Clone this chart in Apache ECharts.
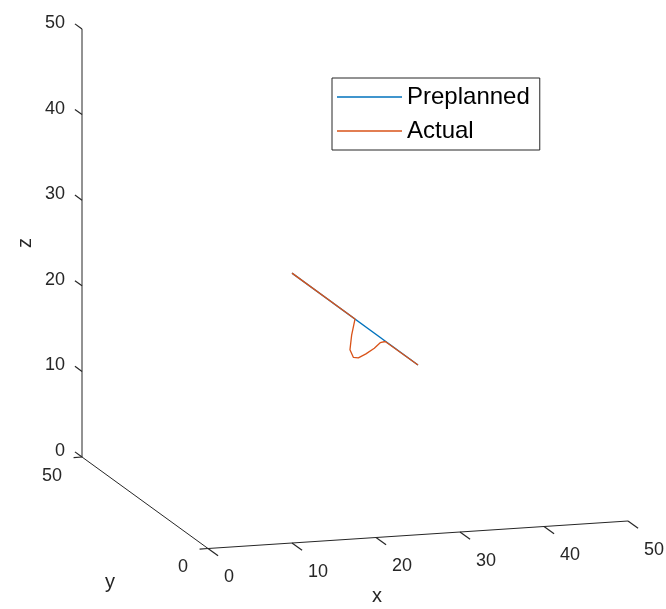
<!DOCTYPE html>
<html>
<head>
<meta charset="utf-8">
<script src="https://cdn.jsdelivr.net/npm/echarts@6/dist/echarts.min.js"></script>
<style>
  html, body { margin: 0; padding: 0; background: #fff; }
  #chart { width: 666px; height: 609px; }
</style>
</head>
<body>
<div id="chart"></div>
<script>
// Tick values on the three axes
const xTicks = [0, 10, 20, 30, 40, 50];
const yTicks = [0, 50];
const zTicks = [0, 10, 20, 30, 40, 50];

// Planned straight path (x, y, z)
const preplannedX = [17.5, 32.5];
const preplannedY = [25, 25];
const preplannedZ = [25.7, 14.0];

// Flown path with its dip below the plan
const actualX = [17.5, 25.0, 24.6, 24.4, 24.8, 25.4, 26.3, 27.3, 28.0, 28.6, 32.5];
const actualY = [25, 25, 25, 25, 25, 25, 25, 25, 25, 25, 25];
const actualZ = [25.7, 19.85, 18.0, 16.3, 15.4, 15.3, 15.7, 16.3, 16.9, 17.0, 14.0];

// Axis range of the box
const boxMax = 50;

// Orthographic view: screen offset per data unit along x, y and z
const VIEW = {
  origin: [208, 548.5],
  ex: [8.4, -0.55],
  ey: [-2.52, -1.83],
  ez: [0, -8.56]
};
function project(x, y, z) {
  return [
    VIEW.origin[0] + x * VIEW.ex[0] + y * VIEW.ey[0] + z * VIEW.ez[0],
    VIEW.origin[1] + x * VIEW.ex[1] + y * VIEW.ey[1] + z * VIEW.ez[1]
  ];
}
function path(xs, ys, zs) {
  return xs.map((x, i) => project(x, ys[i], zs[i]));
}

const FONT = '"Liberation Sans", Arial, Helvetica, sans-serif';
const AXIS_COLOR = '#262626';

// Box edges that carry the axes
const axisSegments = [
  [[0, 0, 0], [boxMax, 0, 0]],
  [[0, 0, 0], [0, boxMax, 0]],
  [[0, boxMax, 0], [0, boxMax, boxMax]]
];

// Tick marks: each points along a neighbouring axis direction (data units)
const tickStyle = {
  x: { at: v => [v, 0, 0], dir: [0, -4, 0], off: [16, 29], align: 'left' },
  y: { at: v => [0, v, 0], dir: [-1, 0, 0], off: [-20, 19], align: 'right' },
  z: { at: v => [0, boxMax, v], dir: [0, 2.8, 0], off: [-17, -6], align: 'right' }
};
const tickItems = []
  .concat(xTicks.map(v => ({ axis: 'x', v })))
  .concat(yTicks.map(v => ({ axis: 'y', v })))
  .concat(zTicks.map(v => ({ axis: 'z', v })));

// Axis titles anchored at the middle of each axis
const titleItems = [
  { text: 'x', at: [25, 0, 0], off: [-41, 62], rot: 0 },
  { text: 'y', at: [0, 25, 0], off: [-35, 80], rot: 0 },
  { text: 'z', at: [0, boxMax, 25], off: [-57, 0], rot: Math.PI / 2 }
];

const chart = echarts.init(document.getElementById('chart'), null, { renderer: 'canvas' });

chart.setOption({
  animation: false,
  backgroundColor: '#ffffff',
  grid: { left: 0, right: 0, top: 0, bottom: 0 },
  xAxis: { type: 'value', min: 0, max: 666, show: false },
  yAxis: { type: 'value', min: 0, max: 609, inverse: true, show: false },
  legend: {
    data: ['Preplanned', 'Actual'],
    orient: 'vertical',
    left: 332,
    top: 78,
    padding: [6, 10, 6, 5],
    itemGap: 8,
    itemWidth: 65,
    itemHeight: 1.3,
    icon: 'rect',
    borderColor: AXIS_COLOR,
    borderWidth: 1,
    backgroundColor: '#ffffff',
    selectedMode: false,
    textStyle: { fontFamily: FONT, fontSize: 24, color: '#000000', lineHeight: 26 }
  },
  series: [
    {
      type: 'custom',
      name: 'axes',
      silent: true,
      clip: false,
      data: axisSegments.map((s, i) => i),
      renderItem: (params, api) => {
        const s = axisSegments[params.dataIndex];
        const a = api.coord(project(...s[0]));
        const b = api.coord(project(...s[1]));
        return {
          type: 'line',
          shape: { x1: a[0], y1: a[1], x2: b[0], y2: b[1] },
          style: { stroke: AXIS_COLOR, lineWidth: 1 }
        };
      }
    },
    {
      type: 'custom',
      name: 'ticks',
      silent: true,
      clip: false,
      data: tickItems.map((t, i) => i),
      renderItem: (params, api) => {
        const t = tickItems[params.dataIndex];
        const st = tickStyle[t.axis];
        const p = st.at(t.v);
        const q = [p[0] + st.dir[0], p[1] + st.dir[1], p[2] + st.dir[2]];
        const a = api.coord(project(...p));
        const b = api.coord(project(...q));
        return {
          type: 'group',
          children: [
            {
              type: 'line',
              shape: { x1: a[0], y1: a[1], x2: b[0], y2: b[1] },
              style: { stroke: AXIS_COLOR, lineWidth: 1.2 }
            },
            {
              type: 'text',
              x: a[0] + st.off[0],
              y: a[1] + st.off[1],
              style: {
                text: String(t.v),
                fill: AXIS_COLOR,
                font: '18px ' + FONT,
                align: st.align,
                verticalAlign: 'middle'
              }
            }
          ]
        };
      }
    },
    {
      type: 'custom',
      name: 'titles',
      silent: true,
      clip: false,
      data: titleItems.map((t, i) => i),
      renderItem: (params, api) => {
        const t = titleItems[params.dataIndex];
        const a = api.coord(project(...t.at));
        return {
          type: 'text',
          x: a[0] + t.off[0],
          y: a[1] + t.off[1],
          rotation: t.rot,
          style: {
            text: t.text,
            fill: AXIS_COLOR,
            font: '20px ' + FONT,
            align: 'center',
            verticalAlign: 'middle'
          }
        };
      }
    },
    {
      type: 'line',
      name: 'Preplanned',
      data: path(preplannedX, preplannedY, preplannedZ),
      symbol: 'none',
      clip: false,
      lineStyle: { color: '#0072BD', width: 1.3 },
      itemStyle: { color: '#0072BD' }
    },
    {
      type: 'line',
      name: 'Actual',
      data: path(actualX, actualY, actualZ),
      symbol: 'none',
      clip: false,
      lineStyle: { color: '#D95319', width: 1.3 },
      itemStyle: { color: '#D95319' }
    }
  ]
});
</script>
</body>
</html>
